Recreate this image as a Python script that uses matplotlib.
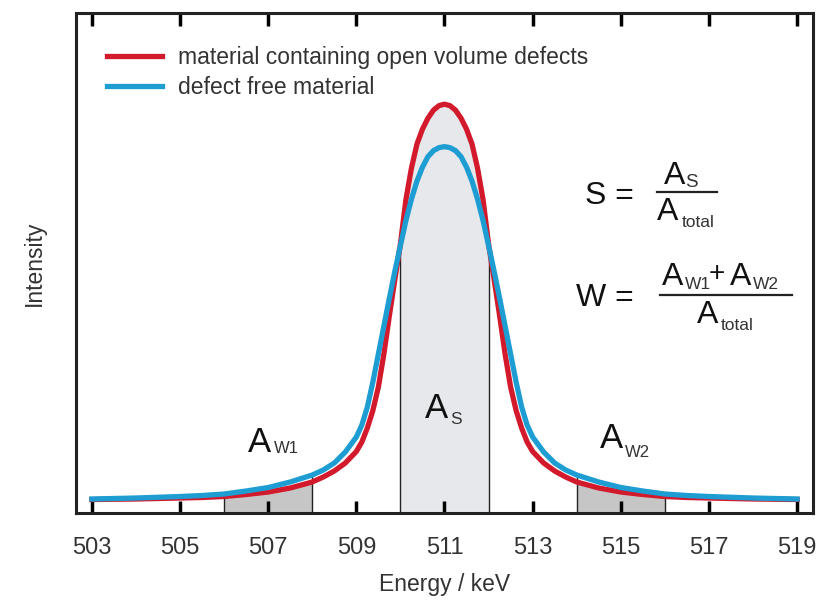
import numpy as np
import matplotlib
matplotlib.use("Agg")
import matplotlib.pyplot as plt
from matplotlib.lines import Line2D

plt.rcParams["font.family"] = ["Liberation Sans", "DejaVu Sans"]

# Doppler-broadened annihilation line, energies in keV
energy = [503, 504, 505, 505.5, 506, 506.5, 507, 507.5, 508, 508.25, 508.5, 508.75,
          509, 509.125, 509.25, 509.375, 509.5, 509.625, 509.75, 509.875,
          510, 510.125, 510.25, 510.375, 510.5, 510.625, 510.75, 510.875, 511,
          511.125, 511.25, 511.375, 511.5, 511.625, 511.75, 511.875,
          512, 512.125, 512.25, 512.375, 512.5, 512.625, 512.75, 512.875,
          513, 513.25, 513.5, 513.75, 514, 514.5, 515, 515.5, 516, 516.5, 517, 518, 519]

defect_int = [0.027, 0.028, 0.030, 0.031, 0.033, 0.037, 0.042, 0.050, 0.062, 0.072,
              0.084, 0.100, 0.123, 0.142, 0.170, 0.205, 0.252, 0.318, 0.395, 0.468,
              0.538, 0.627, 0.690, 0.738, 0.768, 0.790, 0.806, 0.815, 0.818,
              0.815, 0.806, 0.790, 0.768, 0.738, 0.690, 0.627,
              0.538, 0.468, 0.395, 0.318, 0.252, 0.205, 0.170, 0.142,
              0.123, 0.100, 0.084, 0.072, 0.062, 0.050, 0.042, 0.037, 0.033, 0.031,
              0.030, 0.028, 0.027]

free_int = [0.028, 0.030, 0.033, 0.035, 0.038, 0.044, 0.051, 0.062, 0.076, 0.086,
            0.100, 0.122, 0.152, 0.176, 0.212, 0.262, 0.318, 0.374, 0.430, 0.484,
            0.535, 0.585, 0.628, 0.664, 0.692, 0.713, 0.725, 0.731, 0.733,
            0.731, 0.725, 0.713, 0.692, 0.664, 0.628, 0.585,
            0.535, 0.484, 0.430, 0.374, 0.318, 0.262, 0.212, 0.176,
            0.152, 0.122, 0.100, 0.086, 0.076, 0.062, 0.051, 0.044, 0.038, 0.035,
            0.033, 0.030, 0.028]

# integration windows (keV)
w1_window = [506, 508]
s_window = [510, 512]
w2_window = [514, 516]

xticks = [503, 505, 507, 509, 511, 513, 515, 517, 519]

RED = "#d3192c"
BLUE = "#1e9dd3"
TXT = "#333333"

e = np.array(energy)
red = np.array(defect_int)
blue = np.array(free_int)

fig = plt.figure(figsize=(8.33, 6.0), dpi=100)
ax = fig.add_axes([0.0912, 0.145, 0.8848, 0.833])


def px(x, y):
    return x / 833, 1 - y / 600


# shaded areas
for win, col in [(w1_window, "#c6c6c6"), (s_window, "#e6e8eb"), (w2_window, "#c6c6c6")]:
    mask = (e >= win[0]) & (e <= win[1])
    ax.fill_between(e, 0, red, where=mask, color=col, lw=0, zorder=1)
    for b in win:
        top = max(np.interp(b, e, red), np.interp(b, e, blue))
        ax.plot([b, b], [0, top], color="#222222", lw=1.0, zorder=2)

ax.plot(e, red, color=RED, lw=3.8, solid_joinstyle="round", zorder=3,
        label="material containing open volume defects")
ax.plot(e, blue, color=BLUE, lw=3.8, solid_joinstyle="round", zorder=4,
        label="defect free material")

ax.set_xlim(502.64, 519.36)
ax.set_ylim(0, 1.0)
ax.set_xticks(xticks)
ax.set_yticks([])
ax.tick_params(axis="x", direction="in", length=9, width=2.5, top=True,
               labelsize=17, labelcolor=TXT, pad=17)
for sp in ax.spines.values():
    sp.set_linewidth(2.2)
    sp.set_color("#222222")

ax.set_xlabel("Energy / keV", fontsize=16.5, color=TXT, labelpad=10)
ax.set_ylabel("Intensity", fontsize=16.5, color=TXT, labelpad=22)

leg = ax.legend(loc="upper left", bbox_to_anchor=px(107, 46),
                bbox_transform=fig.transFigure, frameon=False, fontsize=16.5,
                handlelength=2.4, handletextpad=0.7, labelspacing=0.3,
                borderpad=0, borderaxespad=0)
for t in leg.get_texts():
    t.set_color(TXT)

# area labels
ax.text(510.55, 0.19, "A", fontsize=25, color="#111111", ha="left", va="baseline")
ax.text(511.12, 0.178, "S", fontsize=12.5, color=TXT, ha="left", va="baseline")
ax.text(506.54, 0.122, "A", fontsize=25, color="#111111", ha="left", va="baseline")
ax.text(507.12, 0.12, "W1", fontsize=12, color=TXT, ha="left", va="baseline")
ax.text(514.52, 0.13, "A", fontsize=25, color="#111111", ha="left", va="baseline")
ax.text(515.09, 0.112, "W2", fontsize=12, color=TXT, ha="left", va="baseline")


# S and W parameter definitions
def frac_line(x0, x1, y):
    a, b = px(x0, y)
    c, _ = px(x1, y)
    fig.add_artist(Line2D([a, c], [b, b], transform=fig.transFigure,
                          color="#222222", lw=1.6))


fs_big = 23
fs_sub = 12.5
fig.text(*px(585, 196), "S =", fontsize=fs_big, color="#111111", va="center", ha="left")
fig.text(*px(664, 176), "A", fontsize=fs_big, color="#111111", va="center", ha="left")
fig.text(*px(685, 183), "S", fontsize=13.5, color=TXT, va="center", ha="left")
frac_line(657, 717, 192)
fig.text(*px(657, 212), "A", fontsize=fs_big, color="#111111", va="center", ha="left")
fig.text(*px(682, 223), "total", fontsize=fs_sub, color=TXT, va="center", ha="left")

fig.text(*px(576, 298), "W =", fontsize=fs_big, color="#111111", va="center", ha="left")
fig.text(*px(662, 277), "A", fontsize=fs_big, color="#111111", va="center", ha="left")
fig.text(*px(685, 284), "W1", fontsize=fs_sub, color=TXT, va="center", ha="left")
fig.text(*px(709, 274), "+", fontsize=20, color="#111111", va="center", ha="left")
fig.text(*px(730, 277), "A", fontsize=fs_big, color="#111111", va="center", ha="left")
fig.text(*px(753, 284), "W2", fontsize=fs_sub, color=TXT, va="center", ha="left")
frac_line(660, 792, 295)
fig.text(*px(697, 315), "A", fontsize=fs_big, color="#111111", va="center", ha="left")
fig.text(*px(721, 326), "total", fontsize=fs_sub, color=TXT, va="center", ha="left")

fig.savefig("out.png", dpi=100)
